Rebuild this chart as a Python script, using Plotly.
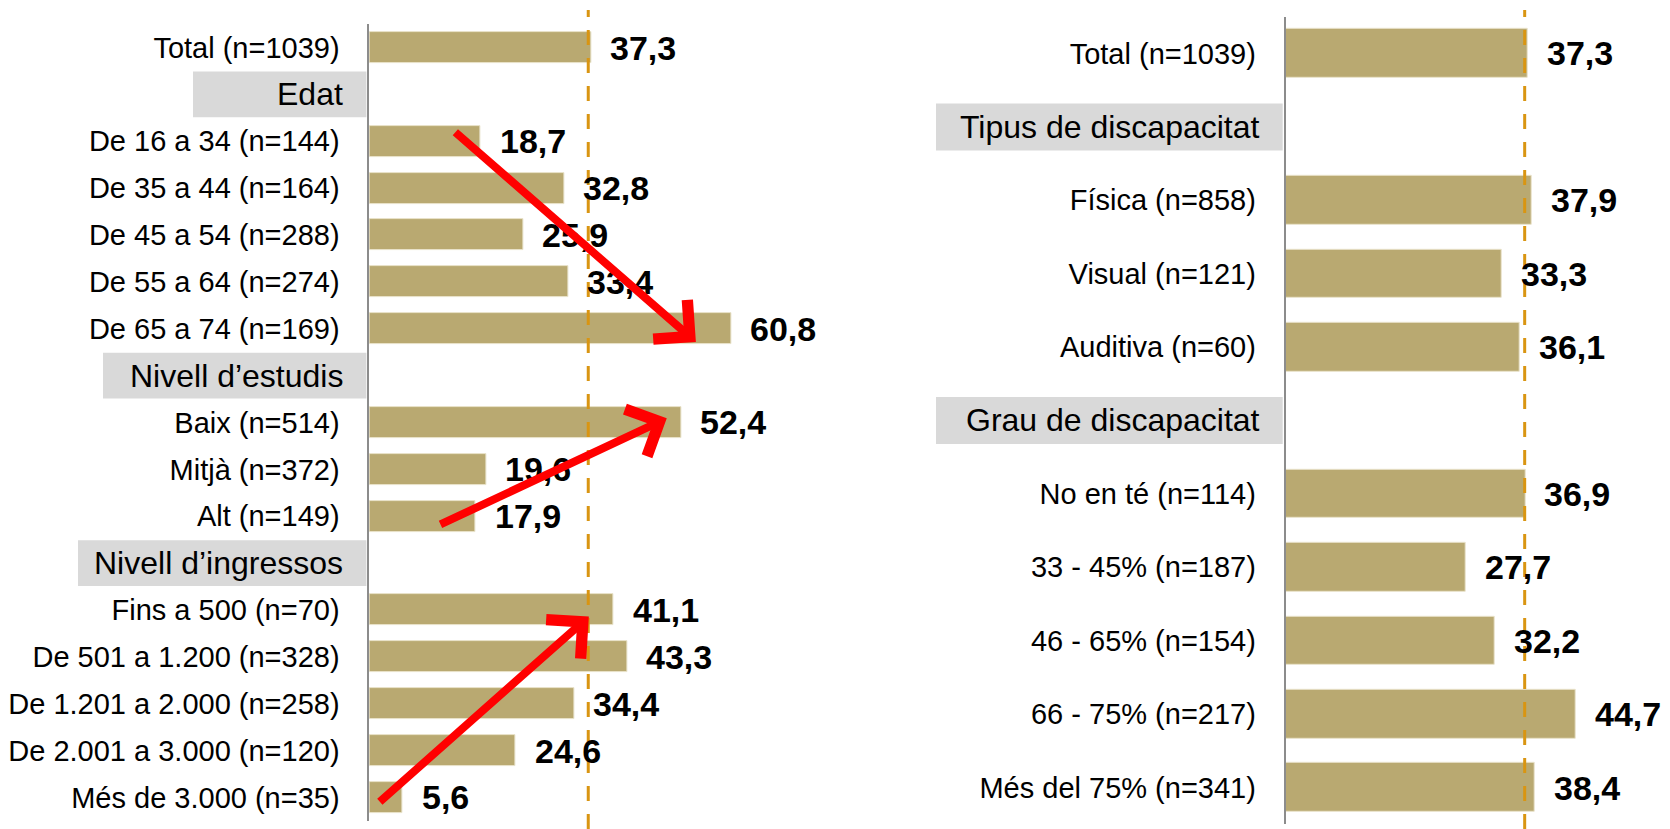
import plotly.graph_objects as go

# left panel: age, education, income
left_labels = ["Total (n=1039)", "Edat", "De 16 a 34 (n=144)", "De 35 a 44 (n=164)",
               "De 45 a 54 (n=288)", "De 55 a 64 (n=274)", "De 65 a 74 (n=169)",
               "Nivell d’estudis", "Baix (n=514)", "Mitjà (n=372)", "Alt (n=149)",
               "Nivell d’ingressos", "Fins a 500 (n=70)", "De 501 a 1.200 (n=328)",
               "De 1.201 a 2.000 (n=258)", "De 2.001 a 3.000 (n=120)", "Més de 3.000 (n=35)"]
left_values = [37.3, None, 18.7, 32.8, 25.9, 33.4, 60.8, None, 52.4, 19.6, 17.9,
               None, 41.1, 43.3, 34.4, 24.6, 5.6]
left_headers = ["Edat", "Nivell d’estudis", "Nivell d’ingressos"]

# right panel: type and degree of disability
right_labels = ["Total (n=1039)", "Tipus de discapacitat", "Física (n=858)", "Visual (n=121)",
                "Auditiva (n=60)", "Grau de discapacitat", "No en té (n=114)",
                "33 - 45% (n=187)", "46 - 65% (n=154)", "66 - 75% (n=217)", "Més del 75% (n=341)"]
right_values = [37.3, None, 37.9, 33.3, 36.1, None, 36.9, 27.7, 32.2, 44.7, 38.4]
right_headers = ["Tipus de discapacitat", "Grau de discapacitat"]

ref_line = 36.8

# red trend arrows on the left panel: (tail x, tail row, head x, head row)
arrows = [(14.2, 1.78, 54.9, 6.28),
          (11.7, 10.19, 50.0, 7.91),
          (1.5, 16.12, 36.9, 12.14)]

W, H = 1670, 829
BAR = "#b9a971"
FONT = "Arial, Liberation Sans, sans-serif"

# left px of the grey header boxes
left_box_px = {"Edat": 193, "Nivell d’estudis": 103, "Nivell d’ingressos": 78}
right_box_px = {"Tipus de discapacitat": 936, "Grau de discapacitat": 936}


def fmt(v):
    return f"{v:.1f}".replace(".", ",")


fig = go.Figure()
fig.add_trace(go.Bar(x=left_values, y=left_labels, orientation="h", width=0.66,
                     marker=dict(color=BAR, line=dict(color="#e9e3cb", width=1)),
                     xaxis="x", yaxis="y", hoverinfo="skip"))
fig.add_trace(go.Bar(x=right_values, y=right_labels, orientation="h", width=0.66,
                     marker=dict(color=BAR, line=dict(color="#e9e3cb", width=1)),
                     xaxis="x2", yaxis="y2", hoverinfo="skip"))

annotations = []
shapes = []

for labels, values, headers, boxes, xr, yr, axis_px, half in [
    (left_labels, left_values, left_headers, left_box_px, "x", "y", 369.4, 0.4875),
    (right_labels, right_values, right_headers, right_box_px, "x2", "y2", 1285.7, 0.32),
]:
    for lab, v in zip(labels, values):
        if v is None:
            continue
        annotations.append(dict(x=v, y=lab, xref=xr, yref=yr, text="<b>" + fmt(v) + "</b>",
                                showarrow=False, xanchor="left", xshift=17,
                                font=dict(family=FONT, size=34, color="black")))
    for h in headers:
        i = labels.index(h)
        shapes.append(dict(type="rect", xref="paper", yref=yr, x0=boxes[h] / W,
                           x1=(axis_px - 3) / W, y0=i - half, y1=i + half,
                           fillcolor="#d9d9d9", line=dict(width=0), layer="below"))
        annotations.append(dict(x=0, y=h, xref=xr + " domain", yref=yr, text=h,
                                showarrow=False, xanchor="right", xshift=-24,
                                font=dict(family=FONT, size=32, color="black")))
    shapes.append(dict(type="line", xref=xr, yref="paper", x0=ref_line, x1=ref_line,
                       y0=0, y1=1 - 10 / H,
                       line=dict(color="#d99512", width=3, dash="15px,13px")))

for tx, ty, hx, hy in arrows:
    annotations.append(dict(x=hx, y=hy, ax=tx, ay=ty, xref="x", yref="y", axref="x",
                            ayref="y", text="", showarrow=True, arrowhead=4,
                            arrowsize=1.25, arrowwidth=8, arrowcolor="#ff0000"))


def yax(labels, headers, domain):
    ticks = [l for l in labels if l not in headers]
    return dict(domain=domain, type="category", categoryorder="array", categoryarray=labels,
                range=[len(labels) - 0.5, -0.5], tickvals=ticks, ticktext=ticks,
                showline=True, linecolor="#8c8c8c", linewidth=2, ticks="",
                ticklabelstandoff=22, showgrid=False, zeroline=False,
                tickfont=dict(family=FONT, size=29, color="black"))


fig.update_layout(
    width=W, height=H, margin=dict(l=0, r=0, t=0, b=0),
    paper_bgcolor="white", plot_bgcolor="white", showlegend=False, bargap=0,
    xaxis=dict(domain=[369.4 / W, (369.4 + 70 * 5.947) / W], range=[0, 70],
               visible=False, anchor="y"),
    yaxis=dict(**yax(left_labels, left_headers, [1 - 820.9 / H, 1 - 24.1 / H]), anchor="x"),
    xaxis2=dict(domain=[1285.7 / W, (1285.7 + 55 * 6.494) / W], range=[0, 55],
                visible=False, anchor="y2"),
    yaxis2=dict(**yax(right_labels, right_headers, [1 - 824.2 / H, 1 - 16.8 / H]), anchor="x2"),
    shapes=shapes, annotations=annotations,
)

fig.write_html("out.html", config={"displayModeBar": False},
               post_script="document.body.style.margin='0';")
